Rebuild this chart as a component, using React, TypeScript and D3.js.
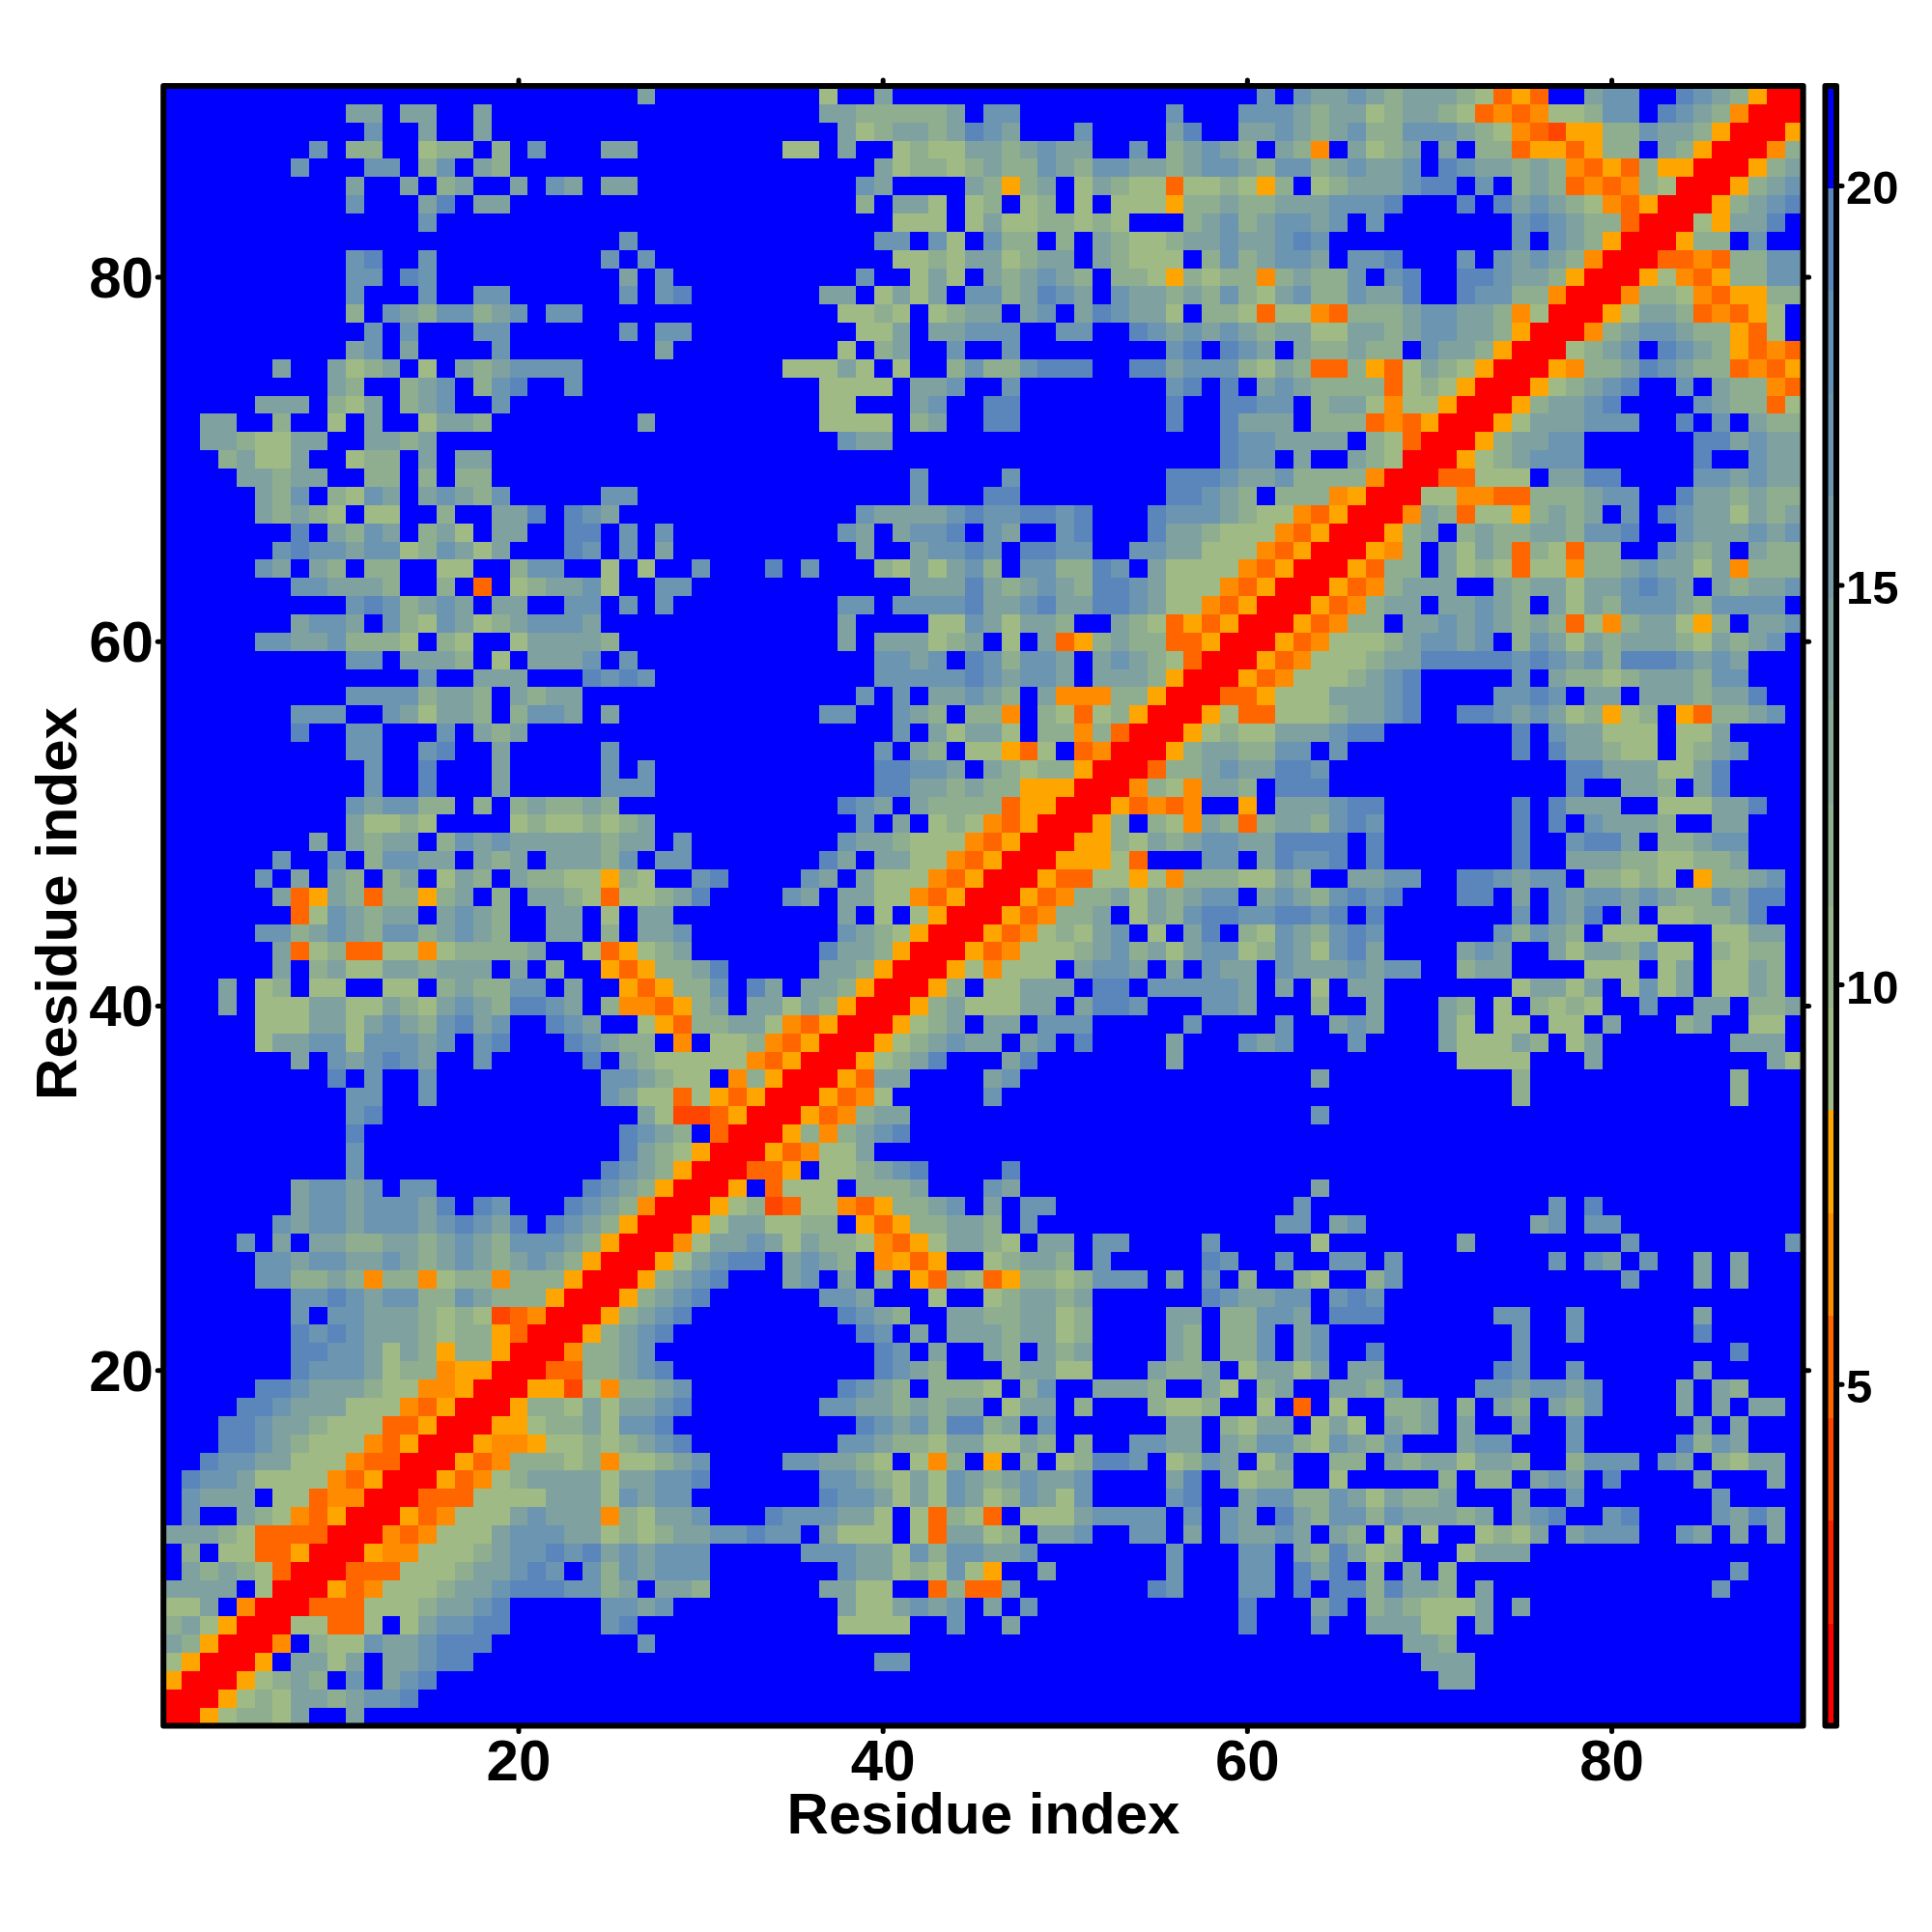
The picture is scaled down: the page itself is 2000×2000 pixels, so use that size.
import React from "react";
import * as d3 from "d3";

// Contact-distance levels, one char per cell.
// Each row runs from residue 1 to residue 90; rows run from residue 90 (top) to 1 (bottom).
const rowsResidue1to30 = [
".......... .......... ......c...",
".......... cc.cc..c.. ..........",
".......... .b..c..c.. ..........",
"........b. dd..edd.d. b...cc....",
".......b.. .bb.db.cd. ..........",
".......... c..c.dc..c .bc.cc....",
".......... b...ca.cc. ..........",
".......... ....b..... ..........",
".......... .......... .....b....",
".......... ba..b..... ....b.b...",
".......... bb.ab..... .....c.b..",
".......... b...b..bb. .....b.ba.",
".......... d.bcdbbdcb .bb.......",
".......... .b.b...bb. .....b.bb.",
".......... cb.c....b. .......c..",
"......c..c edc.e.cdcb bbb.......",
".........c d..dcb.dba ..b.......",
".....ccc.d ec.dcb..b. ..........",
"..cc..d..e .c..eccd.. ......c...",
"..ccdeecc. .ccdc..... ..........",
"...dceec.. edd.c.cc.. ..........",
"....ccdcc. .dd.d.dd.. ..........",
".....cdb.d ebc.cbcdb. ....bb....",
".....cdcde .ee..d..cc a.abc.....",
".......a.c dbc.dce.cc ..aa.b.b..",
"......babb cbbedbcec. ..ab.b.c..",
".....bc.cd .dd..ee..d bb..e.e..b",
".......bbc ccd..d.q.e dccbe..bb.",
".......... babdcbc.cc ..bb.b.b..",
".......cbb c.bdebcedc bbbc......",
".....bbccb ddde.de..e ccccd.....",
".......... bb.cccd.e. cccb.b....",
".......... ....b..ccc ...abab...",
".......... bbbbdccd.c dcc.......",
".......bbb ..bceccd.d bbc.c.....",
".......a.. bb...b.cdc ..........",
".......... bb..ba..c. ....b.....",
".......... .b..a...c. ....b.b...",
".......... .b..a...c. ....bbb...",
".......... bcbbdd.d.d cddcd.....",
".......... ceede....e deededc...",
"........c. cdcc.dbcbc ccccdcc.b.",
"......b..b .dbbcc.cdc .cccdb.bb.",
".....b.c.c d.dc.ecd.c ddeeode..b",
"......cqoc dqddodc.d. ccdeqeedca",
".......qeb cdcc.cbcd. .cc.e.cc..",
".....bbdcb cdbbdcbcd. .cc.d.ccb.",
"......cqed qqeepedddd c..eqoedc.",
"......c.dc eeccdccc.c .d..oqoddc",
"...c.ed.ee ..ee.dcddb b.c..oqodd",
"...c.eeecc eecdecbcda abc.dppqod",
".....eeecc ecbcdbacb. .abc..eoqd",
".....eccbb ebbbcb.ba. ..abcdd.p.",
".......c.b cbabc..b.. ...a.cdeee",
".........a .b..b..... ....bbcdee",
".......... bb..b..... ....bceeqe",
".......... ba........ ......cess",
".......... a......... .....abcd.",
".......... b......... .....acdeo",
".......... b......... ....abcdor",
".......cbb cb.bb..... ...abcdorr",
".......cbb cbbbca.ab. ..abcdprrr",
"......bcbb cbbbcbabca .abcdorrro",
"....b.c.cc ddccdcbcdb bbcdorrrpe",
".....bbcbb ccbcdcbcdc bcdorrroec",
".....bbddc dpddpeddpd ddorrrodcb",
".......bba bcbbddbcdd dorrrodcba",
".......b.b bcccdedesq prrrodcba.",
".......aba bcccdeddoq rrrodcba..",
".......aab bcecdoddor rrpddcb...",
".......abb bceddpoorr rqqddcba..",
".....aabcc cdeepporrr oosepddcb.",
"....aabccc eeepqorrro ddececcba.",
"...aabccde eeqqorrroo eddcebba..",
"...aabcdee epqorrropp oeededcba.",
"..abbcceee pqqrrroqpd ddedpeedcb",
".abbceeeep qorrroqped ccccеccbba".replace(/[^a-z. ]/g, "e"),
".bccc.eeqp prrrqqqeee ecccebcbb.",
".b..cdepqo rrroqpeeec bcccpdeccb",
"cccdeqqqqr rrpqpeeecb bbccededcc",
".d.eeqqorr roppeeedcb babacbcbbb",
".cdcdeqrrr qqqeeedccb ab.bdbcbbb",
"cccc.errro qpeeedccba aabbdc.ccd",
"eec.prrrqq qeeedccba. ....bbcb..",
"dceorrreeq qe.ecbbaa. ....ba....",
"cdorrrp.de ebccbaaa.. ......b...",
"eorrro.cce c.ccbaa... ..........",
"orrroedcd. b.cba..... ..........",
"rrroedeccd cbba...... ..........",
"rroeddec.. c......... ..........",
];

const rowsResidue31to60 = [
"......e..c .......... ..........",
"......ccdd dddc.bb... .....b...b",
".......ced ccdcabc... b....ca..c",
"....ee.c.. edeeccdcbc c..b.dcbcd",
".........c eddedcddbc dbbccdcbbc",
"........bc ....cdodc. ecdeeqeede",
"........d. cce.ed.ed. e.eeeoddcd",
".......... eee.eceedd ede...dcbd",
".........b b.be.bdd.d .cdeedccbc",
".......... eedeccedcc .cdeee.dbd",
"........b. .ece.cdcbc d.ddeodedd",
"......cc.e cec.bbdcab c.bccdcdbd",
".......eed e.edcc.cb. cabcce.dde",
"........ee c.ccbbb..b b..abcbcbc",
".......e.d c..b..b... .....ba.ab",
"....eeece. e..dbddbaa a..aacbbbd",
"......eeee .ccb..b... .....ba.a.",
"......ee.. .cb..aa... .....a..aa",
"......eeee .dc..aa... .....a..ac",
".......bcc .......... ........ab",
".......... .......... ........ab",
".......... .b....b... .....aaabc",
".......... .b...aa... .....aabcd",
"........bc cccbabbaab a...abbbcd",
".......bc. cbba.bc..b a...accdee",
"........c. .cbbab.aab b..bbcceee",
"...a.b...d ececbd.bbd dab.ceeeep",
".......... .cccacdcbc daabceeepq",
".......bb. bbbbaccbac caabceepqo",
".......c.. ..eebceccd ..cdeqoqor",
".......c.c ccedc.e.cq odcddqqorr",
".........b bcb.abdbbc .cbcdeqrrr",
".........b bbbbabcbbc .cccdorrro",
"........b. b.ccbcd.cp ppddorrrqq",
"......bb.. bcd.ddp.de qedorrroeq",
".......... b.cecce.dd pdqrrroede",
".........b .cd.eeoqe. qprrrodccd",
".........a abbc.cdedd orrrqddcbc",
".........a accdcddooo rrrpdepccd",
".......abc .cddddqoor rroqpqp..o",
"........b. c.edepqorr rod.depcdq",
".......bcc deeepqorrr oodecdcbbc",
"......ac.c ceepqorrro ooeq...bb.",
"a....bc.ce eepqorrroq qeeoepddde",
"....bc.cce epqorrroqp ddcecdcbb.",
".......c.e .eorrroqpd dc.ecdbaab",
".......bcd eorrroqped ecb.e.ca.d",
"......accd orrroqpeee dcbdcecbbe",
"a.....ccdo rrroepeee. cbbc.c.bcc",
"b.ac.ccdor rrod.eeccc .aa.bbbbbc",
"c.ccecdorr rodceeecc. caab...bbc",
"dccepqorrr oedc.cc.bb b.....b...",
"eedpqorrro edcbcc.cb. a....c...b",
"eepqorrroe dca...ca.. .....c....",
".pdorrroqc c....cb... ..........",
"oqorrroqpe .....b.... ..........",
"qorrroqpdc c......... ..........",
"qrrrodpdcb a......... ..........",
"rrroqpeec. .......... ..........",
"rrqqo.eedc ba....a... ..........",
"ro.qeee.dd dc...bc... ..........",
"oedsqeepqo ddcb.c.bb. ..........",
"ecceedd.oq oddccd.b.. ..........",
"ccbcecddep qoeccde.cc .bb....b..",
"baa.cbcd.p oqo..edccd .b.....ab.",
"a...cb.c.d .oqdeqodde dbbb.c.b.d",
"......bbc. ..e..edccd c......abc",
".......abc d..ccddcce d....cc.dd",
"........ab .c.cccdcce d....cd.dd",
".........a b.c..cd.cd c....cd.dd",
".........a bcd...dcce e...cddc.e",
".......abc d.ddde.db. .cccd..ce.",
"......bbcc dcdcc.ecc. d...deed..",
"........ab cbdaadc.b. .....cc.de",
".......bbc ddecceecd. d..bbcc.cd",
"....bbccde .epd.o.d.e daab.edbc.",
"......bbcd ecebcdcbcc b....ca.ce",
"......abbc ecebcedbce b....ba..c",
"...abbbcce .eqdeq.eee cbbbb.b.bc",
"bbabb.ceee .eqcced.cc b..bb.c.bc",
".....bbbcc ebdbbccb.. .....b...b",
".......bcc edebeo..c. .....b...b",
"......ccee ..qdqqc... ....ab...b",
".......cee cbcb.c.b.. .........a",
".......eee e..b..c... .........a",
".......... .......... ..........",
".........b b......... ..........",
".......... .......... ..........",
".......... .......... ..........",
".......... .......... ..........",
];

const rowsResidue61to90 = [
"b.bccbcdcc cdeqoq..cb b..abcdorr",
"bbcdccedcc deqpqpeedb b.abcdprrr",
"cbcdcbddbb bcdepqsood dbccdorrro",
".cdp.cedc. c.ddqooqod d.cdorrrpd",
"dbbdcbccb. abccdcdpqo qdoorrrodc",
"od.edcccba a.b.dcdqpq pderrrodcb",
"dcccbbba.. .a.acbcdep qorrrodcba",
"cbbcb.b... ....babcdd qrrreocca.",
"cbab...... ....b.bcdo rrrodd.b..",
"cbbc.bba.. .b.bcbcdpr rrqqpqddbb",
"pdcddb.ba. .aabccdorr roepqoddbb",
"ecbddbcca. .abbddprrr pddepqoodd",
"qeepqdddcb bccdperrro eccdqpqoe.",
"dcceeccdcb bccdorrrpd cbbcddoqe.",
"c.cddcdd.b ccdorrredc b.abcdoqpq",
"ecdqqdoqec deorrropdd cabcddqpqo",
"cbcddddqed eorrroedcb a..b.cddpq",
"bb.dccepee orrrodccba ....bcddqe",
"cc.dddqpqo rrroecccbb b..a.b.cdd",
"bcccc.deqr rrodccbb.. ....aacbcc",
"b.c..cderr roedcbbb.. ....a..bcc",
"cbddddprrr qqeee.ccaa ....bbcbcc",
".dddporrre eppqqdddcb b..accdcdd",
"eepqorrrpc dqeeodcdc. b.abccecdc",
"epqorrrodc .dcddccdbb a..bcccbcb",
"pqorrropd. cecdqdeqdd ..bcdc.cdd",
"qorrroqdd. cedeqeepdd cbccecpddd",
"orrroqpdcc c..cdccecc babc.cdccb",
"rrroqpdcc. ccbcd.cecd bbbcdbbbb.",
"rroqpdd.cc bcbcdcdqep dcceod.ccb",
"roqpeeedcb bcb.dbcecd cccdecdcb.",
"oqpeeedcca aaaababcbd aaabcbc...",
"qpeeedcba. ....b.cdde dcccdbb...",
"oeeecccba. ...bbab.cc .cccdcca..",
"qeeedccba. .aabcbcedo ed.oqddcb.",
"ecccbaa... ....a.bcce ee.eec....",
"dbb.b..... ....a.accd ee.edcb...",
"caab...... .......aac cceeca....",
".aaa...... .......a.. ccd.ca....",
".cccbaa... ....a.accc ..eeecca..",
"dccdbab... ....a.a.bc ccd..cc...",
"caaaa.a... ....a..baa c.ddcbb...",
"cabba.a... ....a..ccc ddeeddc...",
"ecd..ccbb. .aabcbb.dd ede.oddcb.",
"cbcdbaba.. .aa.c.bcbb cbcddbcaa.",
"baaba.a... ....b.bca. c.eeddca..",
"ebcdbab... ...bdbcd.e ee...eecc.",
"dbcebac... .cbc..cecc dbee.dedd.",
".bcccbcbb. .dcc....ee e.ec.eecd.",
".c.e.cc... ....eccec. ebec.eecd.",
"...d..c... cd.e.dede. .b..cc.ddc",
".b..cbc... ce.ee.ee.c ...dc..ee.",
"cb...b.... ceeecd.ec. ......ccc.",
".......... .eeee...c. ........ce",
"...c...... ....d..... ......d...",
".......... ....d..... ......d...",
"...b...... .......... ..........",
".......... .......... ..........",
".......... .......... ..........",
".......... .......... ..........",
"...c...... .......... ..........",
"..b....... ......b.a. ..........",
".bb.cb.... .....cb.bb ..........",
"...e...... .c........ b........b",
".b..bb.b.. ......b.bc .b..c.c...",
"..de..db.. .......... b...c.c...",
"cbb.bab... .......... ..........",
"bbc.aaa... ...bb..b.. ....c.....",
"b.cb...... ....b..b.. ....a.....",
"b.cb..a... ....b..... ......a...",
"ccec.cc... ...ab..b.. ....c.....",
"dc..ccdb.. ..bbcbbcb. ...c.cd...",
"e.q.e..ddc .d.cd.cdb. ...c.c.cc.",
"cc.ece.cdc .c..c..b.. ....c.c...",
"bbdebcdb.. .cbb...b.. ...adbc...",
"ec..dd.cdc ceccd..dbb b.bc.decc.",
"dd..e..... d.dd.cbc.a ....c...c.",
"bbddbcecdd c...c..b.. .....b....",
".acdbbdbcc cdc.cba..b a....bcac.",
"cbc.cd.e.e ..edec.cbb b..bc.c.c.",
"b.cdaced.. .eccc..... ..........",
"b.aca.d.c. d......... ......b...",
"b.a.aadacc d.c....... .....b....",
"...ca.dcde eec.c..... ..........",
"...b..ccce e.c....... ..........",
"........cc d......... ..........",
".........c cc........ ..........",
".......... cc........ ..........",
".......... .......... ..........",
".......... .......... ..........",
];

// Distance represented by each level char.
const levelValue: Record<string, number> = {
  r: 1.4, s: 4, q: 5.2, p: 6.5, o: 7.8,
  e: 9, d: 11.6, c: 14.2, b: 16.8, a: 19.3, ".": 20.5,
};

const bandEdges = [2.01, 3.3, 4.58, 5.86, 7.14, 8.43, 9.71, 10.99, 12.27, 13.56, 14.84, 16.12, 17.4, 18.69, 19.97];
const bandColors = [
  "#ff0000", "#ff2000", "#ff4500", "#ff6600", "#ff8c00", "#ffa500",
  "#a0ba85", "#98b48a", "#8fae90", "#87a898", "#7fa2a0", "#759ca8", "#6b95b0", "#6390b5", "#5a86bb",
  "#0000ff",
];
const axisTicks = [20, 40, 60, 80];
const barTicks = [5, 10, 15, 20];
const barDomain: [number, number] = [0.73, 21.25];
const axisTitle = "Residue index";

const FONT = "'Liberation Sans', Arial, Helvetica, sans-serif";
const L = 169.2, R = 1866.6, T = 89, B = 1786.4;
const BL = 1889.5, BR = 1901;

const clean = (s: string) => s.replace(/ /g, "").padEnd(30, ".").slice(0, 30);
const grid = rowsResidue1to30.map((_, i) =>
  clean(rowsResidue1to30[i]) + clean(rowsResidue31to60[i]) + clean(rowsResidue61to90[i]),
);

export default function App() {
  const x = d3.scaleLinear().domain([0.5, 90.5]).range([L, R]);
  const y = d3.scaleLinear().domain([0.5, 90.5]).range([B, T]);
  const color = d3.scaleThreshold<number, string>().domain(bandEdges).range(bandColors);
  const bar = d3.scaleLinear().domain(barDomain).range([B, T]);
  const edges = [barDomain[0], ...bandEdges, barDomain[1]];

  const tick = { stroke: "#000", strokeWidth: 5, strokeLinecap: "round" as const };
  return (
    <svg
      width={2000}
      height={2000}
      viewBox="0 0 2000 2000"
      style={{ position: "absolute", left: 0, top: 0, display: "block", background: "#fff" }}
      fontFamily={FONT}
      fontWeight="bold"
    >
      <g shapeRendering="crispEdges">
        {grid.map((row, j) =>
          row.split("").map((ch, i) => {
            const residueX = i + 1;
            const residueY = 90 - j;
            return (
              <rect
                key={`${i}-${j}`}
                x={x(residueX - 0.5)}
                y={y(residueY + 0.5)}
                width={x(residueX + 0.5) - x(residueX - 0.5)}
                height={y(residueY - 0.5) - y(residueY + 0.5)}
                fill={color(levelValue[ch] ?? 20.5)}
              />
            );
          }),
        )}
      </g>
      <rect x={L} y={T} width={R - L} height={B - T} fill="none" stroke="#000" strokeWidth={6} strokeLinejoin="round" />

      {axisTicks.map((t) => (
        <g key={t}>
          <line x1={x(t)} x2={x(t)} y1={B} y2={B + 6} {...tick} />
          <line x1={x(t)} x2={x(t)} y1={T} y2={T - 6} {...tick} />
          <line x1={L} x2={L - 6} y1={y(t)} y2={y(t)} {...tick} />
          <line x1={R} x2={R + 6} y1={y(t)} y2={y(t)} {...tick} />
          <text x={x(t)} y={1843} fontSize={60} textAnchor="middle">{t}</text>
          <text x={159} y={y(t) + 21} fontSize={60} textAnchor="end">{t}</text>
        </g>
      ))}

      <text x={1018} y={1898} fontSize={60} textAnchor="middle">{axisTitle}</text>
      <text transform={`translate(79,935.5) rotate(-90)`} fontSize={60} textAnchor="middle">{axisTitle}</text>

      <g shapeRendering="crispEdges">
        {bandColors.map((c, i) => (
          <rect key={c} x={BL} y={bar(edges[i + 1])} width={BR - BL} height={bar(edges[i]) - bar(edges[i + 1])} fill={c} />
        ))}
      </g>
      <rect x={BL} y={T} width={BR - BL} height={B - T} fill="none" stroke="#000" strokeWidth={6} strokeLinejoin="round" />
      {barTicks.map((t) => (
        <g key={t}>
          <line x1={BR} x2={BR + 6} y1={bar(t)} y2={bar(t)} {...tick} />
          <text x={1911} y={bar(t) + 19} fontSize={49}>{t}</text>
        </g>
      ))}
    </svg>
  );
}
